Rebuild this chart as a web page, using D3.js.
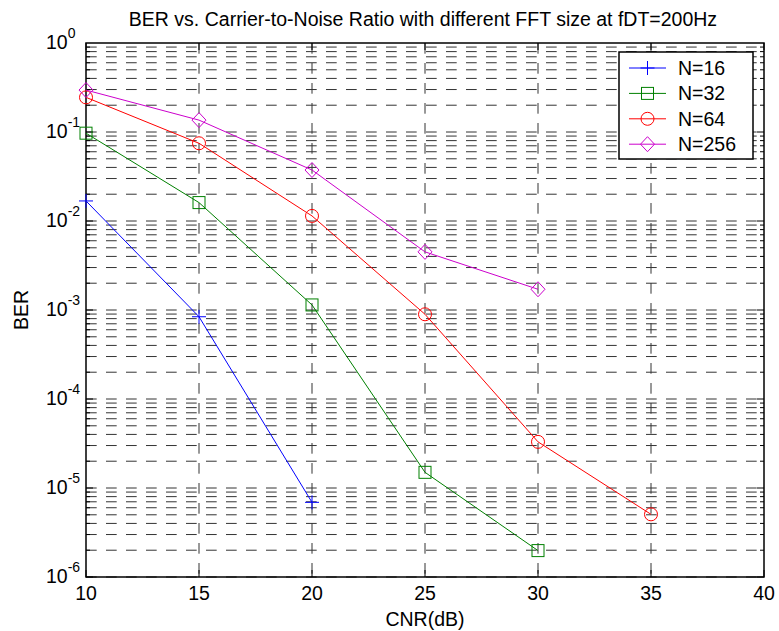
<!DOCTYPE html>
<html><head><meta charset="utf-8">
<script src="https://cdn.jsdelivr.net/npm/d3@7"></script>
<style>body{margin:0;background:#fff}svg{display:block}text{font-family:"Liberation Sans",Arial,sans-serif;fill:#000}</style>
</head><body><svg id="c" width="779" height="631"></svg>
<script>
const cnr = [10, 15, 20, 25, 30, 35];
const ber16 = [0.0168, 8.4e-4, 6.9e-6];
const ber32 = [0.097, 0.0161, 1.14e-3, 1.5e-5, 1.98e-6];
const ber64 = [0.245, 0.0747, 0.0114, 8.95e-4, 3.3e-5, 5.06e-6];
const ber256 = [0.296, 0.136, 0.0374, 4.5e-3, 1.71e-3];
const seriesNames = ["N=16", "N=32", "N=64", "N=256"];
const seriesColors = ["#0000ff", "#008000", "#ff0000", "#cc00cc"];
const seriesMarkers = ["plus", "square", "circle", "diamond"];
const xTicks = [10, 15, 20, 25, 30, 35, 40];
const yDecades = [0, -1, -2, -3, -4, -5, -6];

const svg = d3.select("#c");
const L = 86, R = 764, T = 43, B = 577;
const x = d3.scaleLinear().domain([10, 40]).range([L, R]);
const y = d3.scaleLog().domain([1e-6, 1]).range([B, T]);
const FS = 19.5;

// grid
const grid = svg.append("g");
const gridDash = "10.7,9.3";
const minorVals = [];
for (let e = -6; e < 0; e++) for (let m = 1; m <= 9; m++) minorVals.push(m * Math.pow(10, e));
minorVals.forEach(v => {
  grid.append("line").attr("x1", L).attr("x2", R).attr("y1", y(v)).attr("y2", y(v))
    .attr("stroke", "#333").attr("stroke-width", 1).attr("stroke-dasharray", gridDash);
});
xTicks.slice(1, -1).forEach(v => {
  grid.append("line").attr("x1", x(v)).attr("x2", x(v)).attr("y1", T).attr("y2", B)
    .attr("stroke", "#333").attr("stroke-width", 1).attr("stroke-dasharray", gridDash);
});

// ticks
const tk = svg.append("g").attr("stroke", "#000").attr("stroke-width", 1);
xTicks.forEach(v => {
  tk.append("line").attr("x1", x(v)).attr("x2", x(v)).attr("y1", B).attr("y2", B - 7);
  tk.append("line").attr("x1", x(v)).attr("x2", x(v)).attr("y1", T).attr("y2", T + 7);
});
minorVals.forEach(v => {
  const major = Math.abs(Math.log10(v) - Math.round(Math.log10(v))) < 1e-9;
  const len = major ? 7 : 4;
  tk.append("line").attr("x1", L).attr("x2", L + len).attr("y1", y(v)).attr("y2", y(v));
  tk.append("line").attr("x1", R).attr("x2", R - len).attr("y1", y(v)).attr("y2", y(v));
});

// axis box
svg.append("rect").attr("x", L).attr("y", T).attr("width", R - L).attr("height", B - T)
  .attr("fill", "none").attr("stroke", "#000").attr("stroke-width", 1.5);

// tick labels
xTicks.forEach(v => {
  svg.append("text").attr("x", x(v)).attr("y", 600).attr("text-anchor", "middle")
    .attr("font-size", FS).text(v);
});
yDecades.forEach(e => {
  const t = svg.append("text").attr("x", 46).attr("y", y(Math.pow(10, e)) + 6).attr("font-size", FS);
  t.append("tspan").text("10");
  t.append("tspan").attr("dy", -11).attr("font-size", 14).text(e);
});

// titles
svg.append("text").attr("x", 423).attr("y", 26).attr("text-anchor", "middle").attr("font-size", FS)
  .text("BER vs. Carrier-to-Noise Ratio with different FFT size at fDT=200Hz");
svg.append("text").attr("x", 425).attr("y", 626).attr("text-anchor", "middle").attr("font-size", FS)
  .text("CNR(dB)");
svg.append("text").attr("transform", "translate(28,310) rotate(-90)").attr("text-anchor", "middle")
  .attr("font-size", FS).text("BER");

// markers
function drawMarker(g, type, cx, cy, color) {
  if (type === "plus") {
    g.append("line").attr("x1", cx - 7).attr("x2", cx + 7).attr("y1", cy).attr("y2", cy).attr("stroke", color);
    g.append("line").attr("x1", cx).attr("x2", cx).attr("y1", cy - 7).attr("y2", cy + 7).attr("stroke", color);
  } else if (type === "square") {
    g.append("rect").attr("x", cx - 6).attr("y", cy - 6).attr("width", 12).attr("height", 12)
      .attr("fill", "none").attr("stroke", color);
  } else if (type === "circle") {
    g.append("circle").attr("cx", cx).attr("cy", cy).attr("r", 6.5).attr("fill", "none").attr("stroke", color);
  } else {
    g.append("path").attr("d", `M${cx},${cy - 7.5}L${cx + 7},${cy}L${cx},${cy + 7.5}L${cx - 7},${cy}Z`)
      .attr("fill", "none").attr("stroke", color);
  }
}

const allSeries = [ber16, ber32, ber64, ber256];
const line = d3.line().x(d => x(d[0])).y(d => y(d[1]));
allSeries.forEach((vals, i) => {
  const pts = vals.map((v, j) => [cnr[j], v]);
  const g = svg.append("g");
  g.append("path").attr("d", line(pts)).attr("fill", "none").attr("stroke", seriesColors[i]).attr("stroke-width", 1);
  pts.forEach(p => drawMarker(g, seriesMarkers[i], x(p[0]), y(p[1]), seriesColors[i]));
});

// legend
const lg = svg.append("g");
lg.append("rect").attr("x", 619).attr("y", 52).attr("width", 134).attr("height", 107)
  .attr("fill", "#fff").attr("stroke", "#000").attr("stroke-width", 1.5);
seriesNames.forEach((n, i) => {
  const ly = 68 + i * 25.4;
  lg.append("line").attr("x1", 629).attr("x2", 666).attr("y1", ly).attr("y2", ly)
    .attr("stroke", seriesColors[i]);
  drawMarker(lg, seriesMarkers[i], 647.5, ly, seriesColors[i]);
  lg.append("text").attr("x", 678).attr("y", ly + 7).attr("font-size", FS).text(n);
});
</script></body></html>
